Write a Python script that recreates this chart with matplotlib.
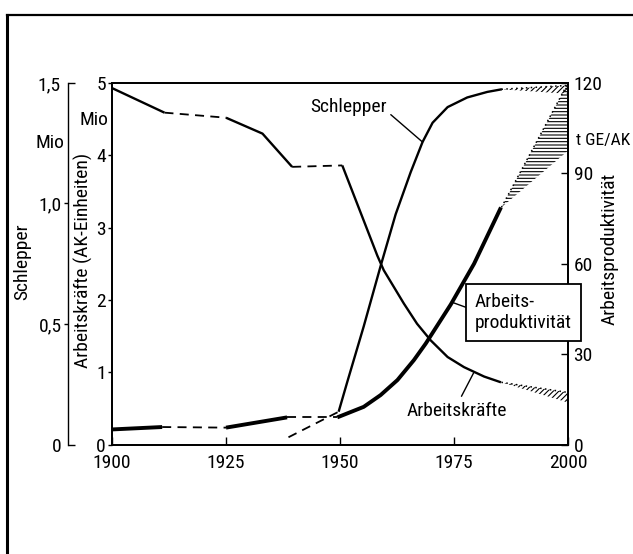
import matplotlib
matplotlib.use('Agg')
import matplotlib.pyplot as plt
from matplotlib import font_manager
from matplotlib.lines import Line2D
from matplotlib.ticker import FixedLocator, FixedFormatter

# ---------------- data ----------------
# Arbeitskräfte (Mio AK-Einheiten), left inner axis 0..5
ak_years = [1900, 1911.5, 1925, 1933, 1939.5, 1950.5, 1955, 1958.2, 1959.6,
            1964.0, 1966.9, 1969.9, 1973.6, 1977.2, 1981.6, 1985.3]
ak_values = [4.93, 4.59, 4.52, 4.30, 3.84, 3.86, 3.13, 2.61, 2.41,
             1.95, 1.67, 1.44, 1.21, 1.07, 0.94, 0.86]
ak_gaps = [(1911.5, 1925), (1939.5, 1950.5)]

# Schlepper (Mio), left outer axis 0..1.5
schl_years = [1938.7, 1949.7, 1951.6, 1955.2, 1958.9, 1962.2, 1965.5, 1968.1,
              1970.3, 1973.6, 1977.9, 1982.3, 1985.5]
schl_values = [0.03, 0.136, 0.26, 0.49, 0.74, 0.955, 1.13, 1.255,
               1.335, 1.40, 1.44, 1.463, 1.474]
schl_gaps = [(1938.7, 1949.7)]

# Arbeitsproduktivität (t GE/AK), right axis 0..120
prod_years = [1900, 1911, 1925, 1938.4, 1949.4, 1955.2, 1958.9, 1962.6,
              1966.2, 1968.8, 1974.3, 1979.4, 1985.3]
prod_values = [5.0, 5.8, 5.6, 9.0, 9.0, 12.5, 16.4, 21.4,
               28.0, 33.5, 46.5, 60.0, 78.7]
prod_gaps = [(1911, 1925), (1938.4, 1949.4)]

# projections to 2000 (lower / upper bound)
proj_years = [1985.4, 2000]
schl_proj_low = [1.474, 1.455]
schl_proj_high = [1.474, 1.49]
ak_proj_low = [0.86, 0.58]
ak_proj_high = [0.86, 0.72]
prod_proj_low = [78.7, 97.5]
prod_proj_high = [78.7, 120]

year_ticks = [1900, 1925, 1950, 1975, 2000]
ak_ticks = [0, 1, 2, 3, 4, 5]
prod_ticks = [0, 30, 60, 90, 120]
schl_major = [0.5, 1.0]
schl_major_labels = ['0,5', '1,0']
schl_minor = [0, 1.5]
schl_minor_labels = ['0', '1,5']

# ---------------- fonts ----------------
available = {f.name for f in font_manager.fontManager.ttflist}
family = 'DejaVu Sans'
for cand in ['Liberation Sans Narrow', 'DejaVu Sans Condensed', 'Roboto Condensed',
             'Liberation Sans']:
    if cand in available:
        family = cand
        break
plt.rcParams['font.family'] = [family, 'DejaVu Sans']
plt.rcParams['hatch.linewidth'] = 0.8
FS = 14

W, H = 633, 554
fig = plt.figure(figsize=(W / 100, H / 100), dpi=100)
fig.patch.set_facecolor('white')


def fx(px):
    return px / W


def fy(py):
    return 1 - py / H


L, R, T, B = 112, 568, 83, 444.5
ax = fig.add_axes([fx(L), fy(B), fx(R) - fx(L), fy(T) - fy(B)])
ax.set_xlim(1900, 2000)
ax.set_ylim(0, 5)
ax_r = ax.twinx()
ax_r.set_ylim(0, 120)
ax_s = ax.twinx()
ax_s.set_ylim(0, 1.5)

SPW = 1.3
for a in (ax, ax_r, ax_s):
    for s in a.spines.values():
        s.set_linewidth(SPW)

# main axis
ax.set_xticks(year_ticks)
ax.set_xticklabels([str(y) for y in year_ticks], fontsize=FS)
ax.tick_params(axis='x', direction='in', length=6, width=1, pad=7)
ax.set_yticks(ak_ticks)
ax.set_yticklabels([str(v) for v in ak_ticks], fontsize=FS)
ax.tick_params(axis='y', direction='out', length=3, width=1, pad=1.5)

# right axis
ax_r.set_yticks(prod_ticks)
ax_r.set_yticklabels([str(v) for v in prod_ticks], fontsize=FS)
ax_r.tick_params(axis='y', direction='in', length=5, width=1, pad=4)

# outer Schlepper axis
ax_s.yaxis.tick_left()
for side in ('top', 'bottom', 'right'):
    ax_s.spines[side].set_visible(False)
ax_s.spines['left'].set_visible(True)
ax_s.spines['left'].set_position(('axes', (68 - L) / (R - L)))
ax_s.spines['left'].set_linewidth(1.0)
ax_s.yaxis.set_major_locator(FixedLocator(schl_major))
ax_s.yaxis.set_major_formatter(FixedFormatter(schl_major_labels))
ax_s.yaxis.set_minor_locator(FixedLocator(schl_minor))
ax_s.yaxis.set_minor_formatter(FixedFormatter(schl_minor_labels))
ax_s.tick_params(axis='y', which='major', direction='out', length=3, width=1,
                 pad=1.5, labelsize=FS)
ax_s.tick_params(axis='y', which='minor', direction='in', length=5, width=1,
                 pad=5, labelsize=FS)


def plot_series(axis, xs, ys, gaps, lw):
    segs = []
    for i in range(1, len(xs)):
        gap = any(abs(xs[i - 1] - g0) < 1e-6 and abs(xs[i] - g1) < 1e-6 for g0, g1 in gaps)
        if segs and segs[-1][0] == gap:
            segs[-1][1].append(i)
        else:
            segs.append([gap, [i - 1, i]])
    for gap, idx in segs:
        sx = [xs[k] for k in idx]
        sy = [ys[k] for k in idx]
        if gap:
            axis.plot(sx, sy, color='black', lw=1.3, dashes=(5, 3.5),
                      solid_capstyle='butt', clip_on=False)
        else:
            axis.plot(sx, sy, color='black', lw=lw, solid_joinstyle='round',
                      solid_capstyle='butt', clip_on=False)


plot_series(ax, ak_years, ak_values, ak_gaps, 1.7)
plot_series(ax_s, schl_years, schl_values, schl_gaps, 1.7)
plot_series(ax_r, prod_years, prod_values, prod_gaps, 2.8)

# projections
for a, lo, hi, hatch in ((ax, ak_proj_low, ak_proj_high, '//////'),
                         (ax_s, schl_proj_low, schl_proj_high, '//////'),
                         (ax_r, prod_proj_low, prod_proj_high, '-----')):
    a.fill_between(proj_years, lo, hi, facecolor='none', edgecolor='black',
                   hatch=hatch, linewidth=0)
    a.plot(proj_years, hi, color='black', lw=1.1, dashes=(1, 2.2))

# labels inside
ax_s.annotate('Schlepper', xy=(1968.1, 1.255), xycoords=ax_s.transData,
              xytext=(1951.9, 4.67), textcoords=ax.transData,
              ha='center', va='center', fontsize=FS,
              arrowprops=dict(arrowstyle='-', color='black', lw=1.0,
                              relpos=(1.0, 0.25), shrinkA=1, shrinkB=0))
ax_s.annotate('Arbeitskräfte', xy=(1979.3, 0.99), xycoords=ax.transData,
              xytext=(1975.6, 0.47), textcoords=ax.transData,
              ha='center', va='center', fontsize=FS,
              arrowprops=dict(arrowstyle='-', color='black', lw=1.0,
                              relpos=(0.52, 1.0), shrinkA=2, shrinkB=0))
ax_s.annotate('Arbeits-\nproduktivität', xy=(1974.6, 47.2), xycoords=ax_r.transData,
              xytext=(1979.6, 43.8), textcoords=ax_r.transData,
              ha='left', va='center', fontsize=FS, linespacing=1.2,
              bbox=dict(boxstyle='square,pad=0.45', facecolor='white',
                        edgecolor='black', lw=1.3),
              arrowprops=dict(arrowstyle='-', color='black', lw=1.0,
                              relpos=(0.0, 0.55), shrinkA=0, shrinkB=0),
              zorder=10)

# outer labels
fig.text(fx(22), fy(262), 'Schlepper', rotation=90, ha='center', va='center', fontsize=FS)
fig.text(fx(83), fy(260), 'Arbeitskräfte (AK-Einheiten)', rotation=90,
         ha='center', va='center', fontsize=FS)
fig.text(fx(50), fy(143), 'Mio', ha='center', va='center', fontsize=FS)
fig.text(fx(94), fy(120), 'Mio', ha='center', va='center', fontsize=FS)
fig.text(fx(610), fy(249), 'Arbeitsproduktivität', rotation=90,
         ha='center', va='center', fontsize=FS)
fig.text(fx(576), fy(140), 't GE/AK', ha='left', va='center', fontsize=12.5)

# page frame
fig.add_artist(Line2D([fx(7), fx(7)], [0, fy(15)], color='black', lw=2.2))
fig.add_artist(Line2D([fx(7), 1], [fy(15), fy(15)], color='black', lw=1.6))

fig.savefig('out.png', dpi=100, facecolor='white')
